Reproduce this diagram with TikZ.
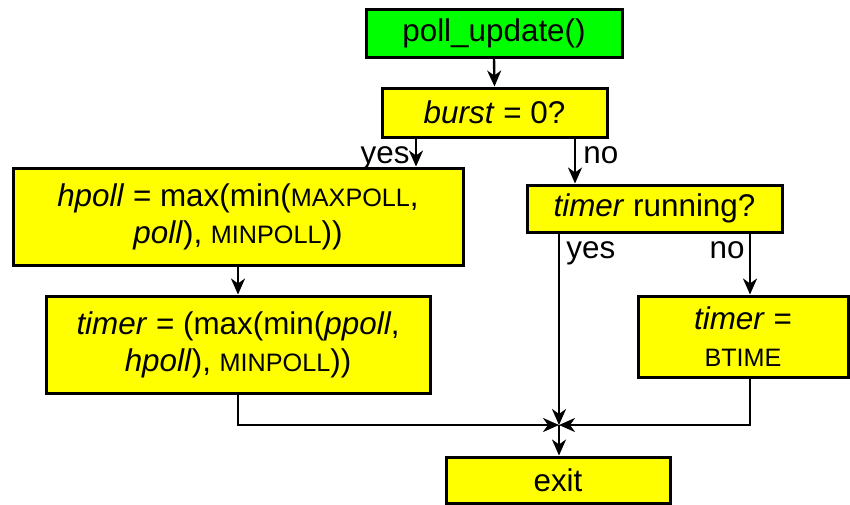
\documentclass[tikz,border=0pt]{standalone}
\usepackage{fontspec}
\setmainfont{Liberation Sans}
\usetikzlibrary{arrows.meta}
\definecolor{ylw}{RGB}{255,255,0}
\definecolor{grn}{RGB}{0,255,0}
\newcommand{\sm}[1]{{\fontsize{12.6}{15}\selectfont #1}}
\begin{document}
\begin{tikzpicture}[x=0.5pt,y=-0.5pt,
  box/.style={draw=black,line width=1.5pt,fill=ylw,inner sep=0pt,align=center,
    font=\fontsize{15.7}{18.5}\selectfont},
  arr/.style={line width=1.2pt,-{Stealth[length=8pt,width=7pt,inset=2.5pt]}},
  ln/.style={line width=1.2pt},
  lbl/.style={font=\fontsize{15.7}{18.5}\selectfont,inner sep=0pt}]
\useasboundingbox (0,0) rectangle (850,504);
\node[box,fill=grn,minimum width=128pt,minimum height=24pt] (poll) at (494,33) {poll\_update()};
\node[box,minimum width=112.5pt,minimum height=24.5pt] (burst) at (494.5,112.5) {\textit{burst} = 0?};
\node[box,minimum width=225pt,minimum height=48.5pt] (hpoll) at (238,216.5) {\textit{hpoll} = max(min(\sm{MAXPOLL},\\\textit{poll}), \sm{MINPOLL}))};
\node[box,minimum width=127.5pt,minimum height=23.5pt] (trun) at (654.5,208.5) {\textit{timer} running?};
\node[box,minimum width=192pt,minimum height=48.5pt] (tleft) at (238,344.5) {\textit{timer} = (max(min(\textit{ppoll},\\\textit{hpoll}), \sm{MINPOLL}))};
\node[box,minimum width=105pt,minimum height=40.5pt] (btime) at (743,336.5) {\textit{timer} =\\\sm{BTIME}};
\node[box,minimum width=112pt,minimum height=23pt] (exit) at (558,480) {exit};
\coordinate (yx) at (416,0);
\coordinate (nx) at (575,0);
\coordinate (J) at (559,425);
\coordinate (bx) at (750,0);
\draw[arr] (poll.south) -- (burst.north);
\draw[arr] (burst.south -| yx) -- (hpoll.north -| yx);
\draw[arr] (burst.south -| nx) -- (trun.north -| nx);
\draw[arr] (hpoll.south) -- (tleft.north);
\draw[arr] (trun.south -| bx) -- (btime.north -| bx);
\draw[arr] (trun.south -| J) -- (J);
\draw[ln] (tleft.south) -- (tleft.south |- J) -- ([xshift=-1pt]J);
\draw[arr] ([xshift=-40pt]J) -- (J);
\draw[ln] (btime.south -| bx) -- (bx |- J) -- ([xshift=1pt]J);
\draw[arr] ([xshift=40pt]J) -- (J);
\draw[arr] (J) -- (exit.north -| J);
\node[lbl,anchor=base east] (y1) at (410,163) {yes};
\node[lbl,anchor=base west] (n1) at (583,163) {no};
\node[lbl,anchor=base west] (y2) at (566,258) {yes};
\node[lbl,anchor=base east] (n2) at (745,258) {no};
\end{tikzpicture}
\end{document}
